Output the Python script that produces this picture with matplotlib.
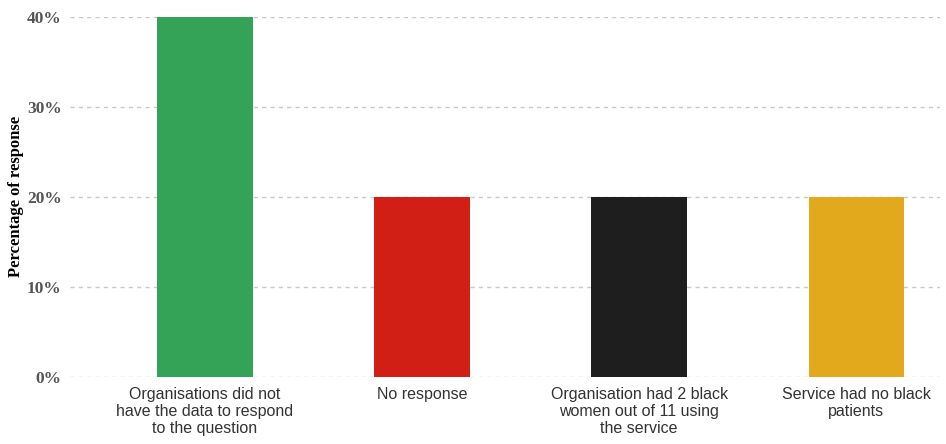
import matplotlib
matplotlib.use("Agg")
import matplotlib.pyplot as plt
from matplotlib.ticker import PercentFormatter

# data
categories = ["Organisations did not\nhave the data to respond\nto the question",
              "No response",
              "Organisation had 2 black\nwomen out of 11 using\nthe service",
              "Service had no black\npatients"]
values = [0.40, 0.20, 0.20, 0.20]
colors = ["#34a257", "#d21f15", "#1e1e1e", "#e3a91c"]
yticks = [0.0, 0.1, 0.2, 0.3, 0.4]

fig = plt.figure(figsize=(9.46, 4.44), dpi=100)
ax = fig.add_axes([0.074, 0.151, 0.92, 0.811])

x = range(len(categories))
ax.bar(x, values, width=0.44, color=colors, zorder=3)

ax.set_xlim(-0.622, 3.387)
ax.set_ylim(0, 0.40)
ax.set_yticks(yticks)
ax.yaxis.set_major_formatter(PercentFormatter(1.0, decimals=0))
ax.grid(axis="y", color="#c8c8c8", linestyle=(0, (3, 3)), linewidth=1, zorder=0)
ax.set_xticks(list(x))
ax.set_xticklabels(categories, fontsize=11.5, color="#333333",
                   family=["Liberation Sans", "DejaVu Sans"], linespacing=1.2)
for lab in ax.get_yticklabels():
    lab.set_family(["Liberation Serif", "DejaVu Serif"])
    lab.set_fontweight("bold")
    lab.set_fontsize(12.5)
    lab.set_color("#555555")
ax.tick_params(length=0, pad=6)
ax.tick_params(axis="x", pad=7)
for s in ax.spines.values():
    s.set_visible(False)
ax.set_ylabel("Percentage of response", family=["Liberation Serif", "DejaVu Serif"],
              fontweight="bold", fontsize=12, labelpad=2)

fig.savefig("out.png", dpi=100)
